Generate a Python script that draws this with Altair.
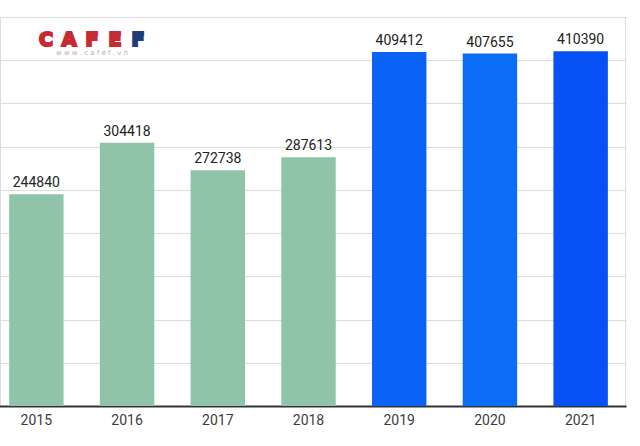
import altair as alt
import pandas as pd

years = ["2015", "2016", "2017", "2018", "2019", "2020", "2021"]
values = [244840, 304418, 272738, 287613, 409412, 407655, 410390]
colors = ["#8fc4a8", "#8fc4a8", "#8fc4a8", "#8fc4a8", "#0a62f7", "#0b6cf7", "#0650f5"]
grid_values = [0, 50000, 100000, 150000, 200000, 250000, 300000, 350000, 400000, 450000]

df = pd.DataFrame({"year": years, "value": values, "color": colors})

x = alt.X("year:N", sort=years, title=None,
          scale=alt.Scale(range=[-9, 626], paddingInner=0.4, paddingOuter=0.2),
          axis=alt.Axis(labelAngle=0, labelFont="Roboto", labelFontSize=14,
                        labelColor="#3c3c3c", labelPadding=7, ticks=False,
                        domainColor="#333", domainWidth=2, grid=False))
y = alt.Y("value:Q", title=None,
          scale=alt.Scale(domain=[0, 450000], nice=False, zero=True),
          axis=alt.Axis(values=grid_values, labels=False, ticks=False, domain=False,
                        gridColor="#dcdcdc", gridWidth=1))

bars = alt.Chart(df).mark_bar().encode(x=x, y=y, color=alt.Color("color:N", scale=None))
labels = alt.Chart(df).mark_text(baseline="bottom", dy=-4, font="Roboto", fontSize=14,
                                 color="#222").encode(x=x, y=y, text="value:Q")

red = "#c62a32"
blue = "#1f3c78"
logo_letters = [("C", 46, red), ("A", 69, red), ("F", 92, red), ("E", 115, red), ("F", 138, blue)]
logo_layers = []
for ch, px, col in logo_letters:
    logo_layers.append(
        alt.Chart(pd.DataFrame({"t": [ch]})).mark_text(
            font="DejaVu Sans", fontWeight="bold", fontSize=19, color=col,
            stroke=col, strokeWidth=2.2,
            baseline="alphabetic", align="center"
        ).encode(text="t:N", x=alt.value(px), y=alt.value(29))
    )
logo_sub = alt.Chart(pd.DataFrame({"t": ["w w w . c a f e f . v n"]})).mark_text(
    font="DejaVu Sans", fontSize=7, color="#b0b0b0", align="center", baseline="alphabetic"
).encode(text="t:N", x=alt.value(92), y=alt.value(38))

chart = alt.layer(bars, labels, *logo_layers, logo_sub).properties(
    width=625, height=389,
    autosize=alt.AutoSizeParams(type="none"),
    padding={"left": 0, "top": 17, "right": 15, "bottom": 40},
).configure_view(stroke=None).configure(background="white")

chart.save("out.html", embed_options={"renderer": "svg", "actions": False})
